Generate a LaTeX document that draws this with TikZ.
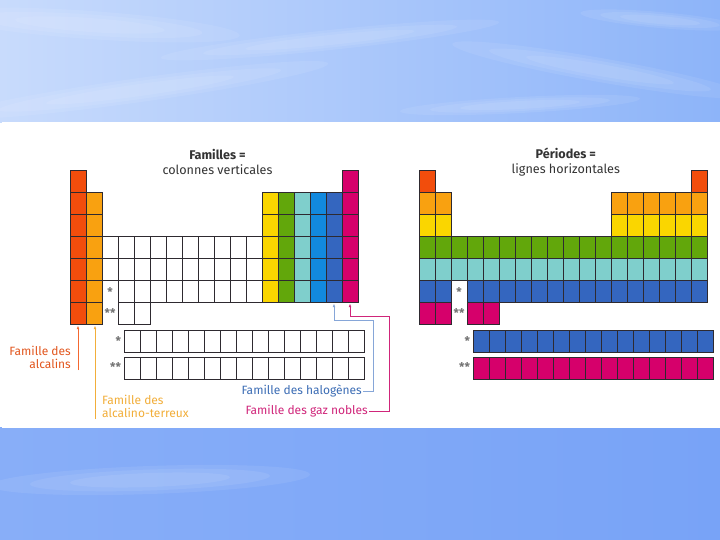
\documentclass[tikz,border=0pt]{standalone}
\usepackage{fontspec}
\setmainfont{Fira Sans}
\usetikzlibrary{calc, arrows.meta}

\definecolor{skylight}{HTML}{C8DBFC}
\definecolor{skydeep}{HTML}{8DB4F9}
\definecolor{sealight}{HTML}{88AEF8}
\definecolor{seadeep}{HTML}{78A3F7}
\definecolor{alcred}{HTML}{F24D0C}
\definecolor{alcorange}{HTML}{F9A110}
\definecolor{peryellow}{HTML}{FAD600}
\definecolor{pergreen}{HTML}{62A70B}
\definecolor{percyan}{HTML}{7FCFCC}
\definecolor{perblue}{HTML}{1289DE}
\definecolor{halblue}{HTML}{3466BF}
\definecolor{noblepink}{HTML}{D6006B}
\definecolor{alktext}{HTML}{E2561E}
\definecolor{tertext}{HTML}{F2AE3A}
\definecolor{haltext}{HTML}{3C6DB5}
\definecolor{halline}{HTML}{86A6D8}
\definecolor{gaztext}{HTML}{D0257A}
\definecolor{gridline}{HTML}{2E2A30}

\pgfdeclarelayer{sky}
\pgfdeclarelayer{cellfill}
\pgfsetlayers{sky,cellfill,main}

% one cell of a table: origin, column, row, fill
\newcommand{\pcell}[4]{%
  \begin{pgfonlayer}{cellfill}\fill[#4] ($(#1)+({16*(#2-1)},{22*(#3-1)})$) rectangle +(16,22);\end{pgfonlayer}
  \draw[cellbox] ($(#1)+({16*(#2-1)},{22*(#3-1)})$) rectangle +(16,22);}
% one cell of the f-block rows: origin, column, fill
\newcommand{\fcell}[3]{\pcell{#1}{#2}{1}{#3}}

\begin{document}
\begin{tikzpicture}[x=1pt, y=-1pt,
  cellbox/.style={draw=gridline, line width=0.8pt},
  starmark/.style={text=black!55, font=\fontsize{12}{12}\bfseries, inner sep=0pt},
  titletext/.style={text=black!80, align=center, font=\fontsize{12.6}{15}\selectfont},
  famlabel/.style={font=\fontsize{12}{13.5}\selectfont, inner sep=1pt},
  pointer/.style={line width=0.6pt, -{Latex[length=3.5pt,width=2.8pt]}, shorten >=1pt}]

  \useasboundingbox (0,0) rectangle (720,540);

  % sky and sea background
  \begin{pgfonlayer}{sky}
  \shade[left color=skylight, right color=skydeep] (0,0) rectangle (720,123);
  \shade[left color=sealight, right color=seadeep] (0,427) rectangle (720,540);
  \foreach \cx/\cy/\rx/\ry/\ang in {90/25/150/14/-4, 330/40/170/10/6, 140/90/190/12/8,
      600/70/150/12/-10, 520/105/120/8/3, 660/20/80/8/-5, 150/480/160/14/2} {
    \foreach \k in {1.0,0.75,0.5} {
      \fill[white, opacity=0.08] (\cx,\cy) ellipse [x radius=\k*\rx, y radius=\k*\ry, rotate=\ang];
    }
  }
  % white card
  \fill[white] (2,122.5) rectangle (720,427.5);
  \end{pgfonlayer}

  \coordinate (L) at (70,170.7);    % left table, families
  \coordinate (R) at (419,170.7);   % right table, periods
  \coordinate (Lf1) at (124.3,330.7); % left f-block rows
  \coordinate (Lf2) at (124.3,357.3);
  \coordinate (Rf1) at (473.3,330.7); % right f-block rows
  \coordinate (Rf2) at (473.3,357.3);

  % ---- left table: columns ----
  \foreach \r in {1,...,7} {\pcell{L}{1}{\r}{alcred}}
  \foreach \r in {2,...,7} {\pcell{L}{2}{\r}{alcorange}}
  \foreach \c in {3,...,12} \foreach \r in {4,5} {\pcell{L}{\c}{\r}{white}}
  \foreach \c in {4,...,12} {\pcell{L}{\c}{6}{white}}
  \foreach \c in {4,5} {\pcell{L}{\c}{7}{white}}
  \foreach \c/\col in {13/peryellow, 14/pergreen, 15/percyan, 16/perblue, 17/halblue}
    \foreach \r in {2,...,6} {\pcell{L}{\c}{\r}{\col}}
  \foreach \r in {1,...,6} {\pcell{L}{18}{\r}{noblepink}}
  \foreach \c in {1,...,15} {\fcell{Lf1}{\c}{white} \fcell{Lf2}{\c}{white}}

  \node[starmark] (lstar) at ($(L)+(40,121)$) {*};
  \node[starmark] (ldstar) at ($(L)+(40,142)$) {**};
  \node[starmark, anchor=east] (lfstar) at ($(Lf1)+(-3,10)$) {*};
  \node[starmark, anchor=east] (lfdstar) at ($(Lf2)+(-3,10)$) {**};

  % ---- right table: rows ----
  \foreach \c in {1,18} {\pcell{R}{\c}{1}{alcred}}
  \foreach \c in {1,2,13,14,15,16,17,18} {\pcell{R}{\c}{2}{alcorange} \pcell{R}{\c}{3}{peryellow}}
  \foreach \c in {1,...,18} {\pcell{R}{\c}{4}{pergreen} \pcell{R}{\c}{5}{percyan}}
  \foreach \c in {1,2,4,5,6,7,8,9,10,11,12,13,14,15,16,17,18} {\pcell{R}{\c}{6}{halblue}}
  \foreach \c in {1,2,4,5} {\pcell{R}{\c}{7}{noblepink}}
  \foreach \c in {1,...,15} {\fcell{Rf1}{\c}{halblue} \fcell{Rf2}{\c}{noblepink}}

  \node[starmark] (rstar) at ($(R)+(40,121)$) {*};
  \node[starmark] (rdstar) at ($(R)+(40,142)$) {**};
  \node[starmark, anchor=east] (rfstar) at ($(Rf1)+(-3,10)$) {*};
  \node[starmark, anchor=east] (rfdstar) at ($(Rf2)+(-3,10)$) {**};

  % titles
  \node[titletext] (famtitle) at (217.5,161.5) {\bfseries Familles =\\colonnes verticales};
  \node[titletext] (pertitle) at (565.8,162.5) {\bfseries Périodes =\\lignes horizontales};

  % family labels
  \node[famlabel, text=alktext, align=right, anchor=east] (alk) at (72,357.4) {Famille des\\alcalins};
  \node[famlabel, text=tertext, align=left, anchor=west] (ter) at (101,406.5) {Famille des\\alcalino-terreux};
  \node[famlabel, text=haltext, anchor=east] (hal) at (363,391.2) {Famille des halogènes};
  \node[famlabel, text=gaztext, anchor=east] (gaz) at (369,411.2) {Famille des gaz nobles};

  \coordinate (alkcell) at ($(L)+(8,154)$);
  \coordinate (tercell) at ($(L)+(25,154)$);
  \coordinate (halcell) at ($(L)+(264,132)$);
  \coordinate (gazcell) at ($(L)+(280,132)$);
  \coordinate (halbend) at (373,320);
  \coordinate (gazbend) at (389,316.7);

  % pointers
  \draw[pointer, alcred!85] (alkcell |- alk.south) -- (alkcell);
  \draw[pointer, tertext] (tercell |- ter.south) -- (tercell);
  \draw[pointer, halline] (hal.east) -| (halbend) -| (halcell);
  \draw[pointer, gaztext] (gaz.east) -| (gazbend) -| (gazcell);
\end{tikzpicture}
\end{document}
